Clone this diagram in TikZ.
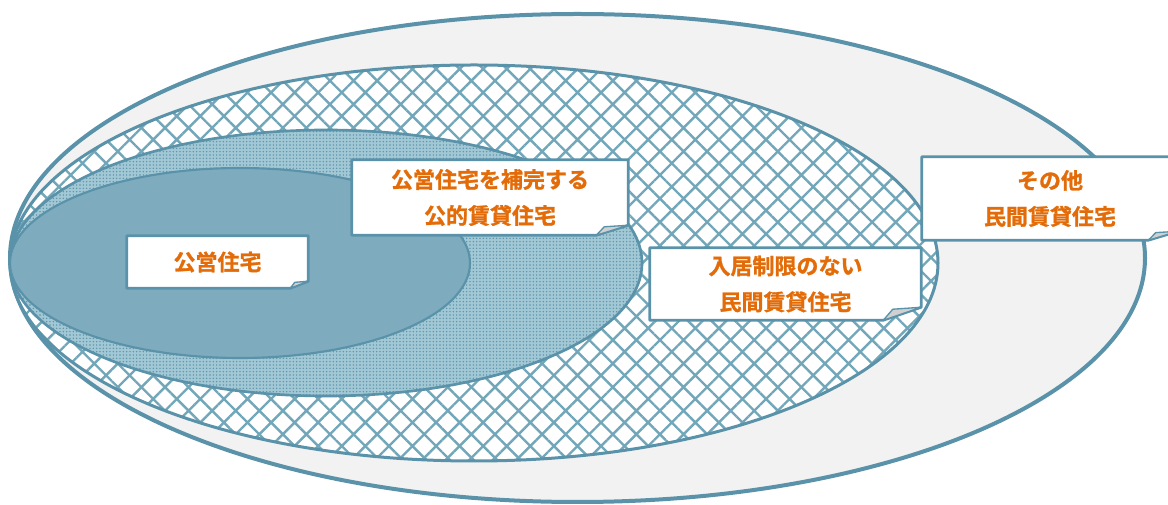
\documentclass[tikz,border=0pt]{standalone}
\usepackage{fontspec}
\newfontfamily\jpfont{Noto Sans CJK JP Bold}[FakeBold=1.2]
\usetikzlibrary{patterns.meta, calc, backgrounds}
\definecolor{cline}{HTML}{5A92A9}
\definecolor{chatch}{HTML}{72A7BA}
\definecolor{cgrey}{HTML}{F2F2F2}
\definecolor{cmid}{HTML}{A3C8D5}
\definecolor{cinner}{HTML}{7EACBE}
\definecolor{corange}{HTML}{E36C09}
\definecolor{cflap}{HTML}{D0D0D0}
\tikzset{
  every picture/.style={x=0.75pt, y=-0.75pt},
  ring/.style={draw=cline, line width=#1},
  ring/.default=2pt,
  tag/.style={minimum width=#1, text=corange, align=center, inner sep=0pt,
    font=\jpfont\fontsize{16.5pt}{27pt}\selectfont},
  boxline/.style={draw=cline, line width=2pt, fill=white, line join=round},
  flapline/.style={draw=cline, line width=1pt, fill=cflap, line join=round},
}
% white box with a curled bottom-right corner: node, fold width, fold height
\newcommand\foldbox[3]{%
  \draw[boxline] (#1.north west) -- (#1.north east) -- ($(#1.south east)+(0,-#3)$)
    -- ($(#1.south east)+(-#2,0)$) -- (#1.south west) -- cycle;
  \draw[flapline] ($(#1.south east)+(-#2,0)$) -- ($(#1.south east)+(-0.75*#2,-0.85*#3)$)
    -- ($(#1.south east)+(0,-#3)$) -- cycle;
}

\begin{document}
\begin{tikzpicture}
  \useasboundingbox (0,0) rectangle (1168,505);

  % labels
  \node[tag=135.75pt, minimum height=39pt] (public) at (217.5,262) {公営住宅};
  \node[tag=207pt, minimum height=56.25pt] (suppl) at (490,197.5) {公営住宅を補完する\\公的賃貸住宅};
  \node[tag=203.25pt, minimum height=54pt] (open) at (785.5,284) {入居制限のない\\民間賃貸住宅};
  \node[tag=192pt, minimum height=62.25pt] (other) at (1050,198.5) {その他\\民間賃貸住宅};

  \begin{pgfonlayer}{background}
    % nested sets, all touching on the left
    \draw[ring=3pt, fill=cgrey] (577.5,258) ellipse [x radius=567.5, y radius=244];
    \draw[ring=2.25pt, preaction={fill=white},
      pattern={Hatch[angle=45, distance=12.5pt, line width=1.8pt]}, pattern color=chatch]
      (474,263) ellipse [x radius=464, y radius=198];
    \draw[ring=2pt, preaction={fill=cmid},
      pattern={Dots[distance=2.5pt, radius=0.6pt]}, pattern color=cline]
      (326,263) ellipse [x radius=316, y radius=133];
    \draw[ring=1.6pt, fill=cinner] (240,263) ellipse [x radius=230, y radius=95];

    \foldbox{public}{18}{7}
    \foldbox{suppl}{32}{10}
    \foldbox{open}{38}{13}
    \foldbox{other}{30}{9}
  \end{pgfonlayer}
\end{tikzpicture}
\end{document}
